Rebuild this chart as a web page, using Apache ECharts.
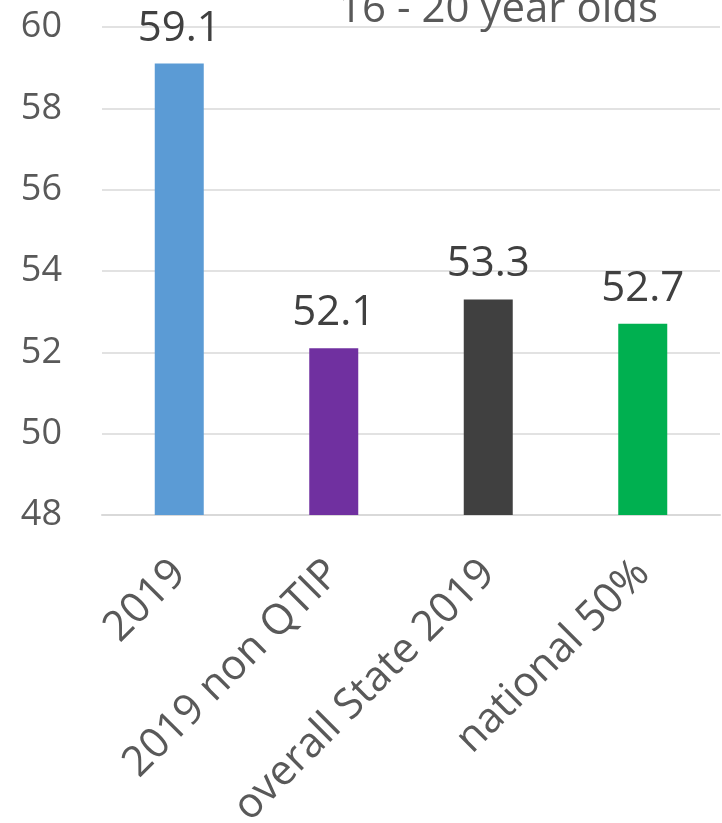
<!DOCTYPE html>
<html>
<head>
<meta charset="utf-8">
<script src="https://cdn.jsdelivr.net/npm/echarts@6/dist/echarts.min.js"></script>
<style>
  html, body { margin: 0; padding: 0; background: #fff; }
  #chart { width: 722px; height: 823px; }
</style>
</head>
<body>
<div id="chart"></div>
<script>
// Share of 16 - 20 year olds, by comparison group
const categories = ['2019', '2019 non QTIP', 'overall State 2019', 'national 50%'];
const values = [59.1, 52.1, 53.3, 52.7];
const barColors = ['#5B9BD5', '#7030A0', '#404040', '#00B050'];
const yTicks = [48, 50, 52, 54, 56, 58, 60];

const FONT = '"Open Sans", "Noto Sans", sans-serif';

const chart = echarts.init(document.getElementById('chart'), null, { renderer: 'canvas' });

chart.setOption({
  animation: false,
  backgroundColor: '#ffffff',
  title: {
    text: '16 - 20 year olds',
    left: 493,
    top: -16,
    textAlign: 'center',
    textStyle: { fontFamily: FONT, fontSize: 42, fontWeight: 'normal', color: '#595959' }
  },
  grid: {
    left: 102, right: 2, top: 27, bottom: 308,
    containLabel: false,
    outerBoundsMode: 'none'
  },
  xAxis: {
    type: 'category',
    data: categories,
    axisLine: { show: true, lineStyle: { color: '#D9D9D9', width: 2 } },
    axisTick: { show: false },
    axisLabel: {
      rotate: 45,
      interval: 0,
      margin: 52,
      fontFamily: FONT,
      fontSize: 42,
      color: '#595959'
    }
  },
  yAxis: {
    type: 'value',
    min: yTicks[0],
    max: yTicks[yTicks.length - 1],
    interval: 2,
    axisLine: { show: false },
    axisTick: { show: false },
    splitLine: { lineStyle: { color: '#D9D9D9', width: 1.5 } },
    axisLabel: {
      margin: 40,
      fontFamily: FONT,
      fontSize: 36,
      color: '#595959'
    }
  },
  series: [{
    type: 'bar',
    barWidth: 49,
    data: values.map((v, i) => ({ value: v, itemStyle: { color: barColors[i] } })),
    label: {
      show: true,
      position: 'top',
      distance: 14,
      fontFamily: FONT,
      fontSize: 42,
      color: '#404040',
      formatter: p => p.value.toFixed(1)
    }
  }]
});
</script>
</body>
</html>
